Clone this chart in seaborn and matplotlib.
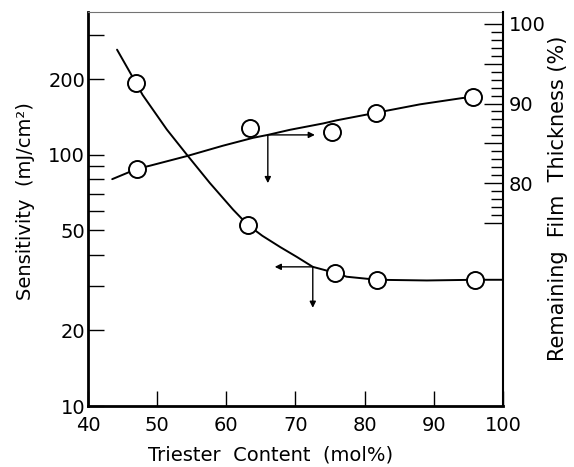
import numpy as np
import pandas as pd
import matplotlib
matplotlib.use('Agg')
import matplotlib.pyplot as plt
import seaborn as sns
from matplotlib.ticker import FixedLocator, FixedFormatter, NullFormatter

sns.set_style('white')
plt.rcParams['font.family'] = ['DejaVu Sans']
plt.rcParams['text.color'] = 'k'
plt.rcParams['axes.labelcolor'] = 'k'
plt.rcParams['xtick.color'] = 'k'
plt.rcParams['ytick.color'] = 'k'

# measured points
triester_sens = [46.9, 63.1, 75.7, 81.8, 95.9]
sensitivity = [193.6, 52.6, 33.9, 31.8, 31.8]
triester_film = [47.1, 63.4, 75.3, 81.6, 95.6]
film_thickness = [81.8, 86.9, 86.4, 88.8, 90.8]

# hand drawn guide curves
sens_curve_x = [44.2, 46.1, 47.9, 51.4, 54.3, 57.6, 61.0, 63.1, 65.2, 67.8, 70.2, 72.5,
                75.7, 77.4, 81.8, 89.0, 96.0, 100.0]
sens_curve_y = [262, 212, 173, 126, 100, 77.3, 60.4, 52.6, 47.6, 42.9, 39.2, 35.8,
                33.9, 32.7, 31.8, 31.6, 31.8, 31.8]
film_curve_x = [43.5, 47.1, 49.0, 54.3, 59.5, 63.9, 66.0, 69.2, 74.0, 76.0, 79.6, 83.2,
                88.0, 94.2, 95.6]
film_curve_y = [80.5, 81.8, 82.2, 83.4, 84.7, 85.7, 86.06, 86.7, 87.5, 87.9, 88.5, 89.1,
                89.9, 90.7, 90.8]

x_ticks = [40, 50, 60, 70, 80, 90, 100]
sens_major = [10, 20, 50, 100, 200, 300]
sens_labels = ['10', '20', '50', '100', '200', '']
sens_minor = [30, 40, 60, 70, 80, 90]
film_major = [75, 80, 85, 90, 95, 100]
film_labels = ['', '80', '', '90', '', '100']
film_minor = [v for v in range(75, 101) if v % 5 != 0]

fig = plt.figure(figsize=(5.74, 4.67), dpi=100)
ax = fig.add_axes([0.1533, 0.1306, 0.7230, 0.8437])
ax.set_yscale('log')
ax.set_xlim(40, 100)
ax.set_ylim(10, 370)
ax2 = ax.twinx()
ax2.set_ylim(52, 101.5)

sns.lineplot(x=sens_curve_x, y=sens_curve_y, ax=ax, sort=False, color='k', lw=1.4)
sns.scatterplot(x=triester_sens, y=sensitivity, ax=ax, s=150, facecolor='white',
                edgecolor='k', linewidth=1.4, zorder=3)
sns.lineplot(x=film_curve_x, y=film_curve_y, ax=ax2, sort=False, color='k', lw=1.4)
sns.scatterplot(x=triester_film, y=film_thickness, ax=ax2, s=150, facecolor='white',
                edgecolor='k', linewidth=1.4, zorder=3)

arrow = dict(arrowstyle='-|>', color='k', lw=1.0, mutation_scale=9, shrinkA=0, shrinkB=0)
ax2.annotate('', xy=(72.8, 86.06), xytext=(66.0, 86.06), arrowprops=arrow)
ax2.annotate('', xy=(66.0, 80.0), xytext=(66.0, 86.06), arrowprops=arrow)
ax.annotate('', xy=(67.0, 35.8), xytext=(72.5, 35.8), arrowprops=arrow)
ax.annotate('', xy=(72.5, 24.6), xytext=(72.5, 35.8), arrowprops=arrow)

# left axis
ax.yaxis.set_major_locator(FixedLocator(sens_major))
ax.yaxis.set_major_formatter(FixedFormatter(sens_labels))
ax.yaxis.set_minor_locator(FixedLocator(sens_minor))
ax.yaxis.set_minor_formatter(NullFormatter())
ax.xaxis.set_major_locator(FixedLocator(x_ticks))
ax.tick_params(axis='y', which='both', direction='in', length=11.5, width=1.0,
               labelsize=14, pad=2, left=True)
ax.tick_params(axis='x', direction='in', length=11, width=1.0, labelsize=14, pad=7, bottom=True)

# right axis
ax2.yaxis.set_major_locator(FixedLocator(film_major))
ax2.yaxis.set_major_formatter(FixedFormatter(film_labels))
ax2.yaxis.set_minor_locator(FixedLocator(film_minor))
ax2.tick_params(axis='y', which='major', direction='in', length=14, width=1.0,
                labelsize=14, pad=4, right=True)
ax2.tick_params(axis='y', which='minor', direction='in', length=9, width=1.0, right=True)

for s in ['left', 'bottom']:
    ax.spines[s].set_linewidth(2.0)
    ax.spines[s].set_color('k')
ax.spines['right'].set_visible(False)
ax.spines['top'].set_color('0.45')
ax.spines['top'].set_linewidth(0.8)
for s in ['left', 'bottom', 'top']:
    ax2.spines[s].set_visible(False)
ax2.spines['right'].set_linewidth(1.5)
ax2.spines['right'].set_color('k')

ax.set_xlabel('Triester  Content  (mol%)', fontsize=14)
ax.xaxis.set_label_coords(0.44, -0.10)
ax.set_ylabel('Sensitivity  (mJ/cm²)', fontsize=14)
ax.yaxis.set_label_coords(-0.128, 0.52)
ax2.set_ylabel('Remaining  Film  Thickness (%)', fontsize=15, rotation=90)
ax2.yaxis.set_label_coords(1.108, 0.528)

fig.savefig('out.png', dpi=100)
